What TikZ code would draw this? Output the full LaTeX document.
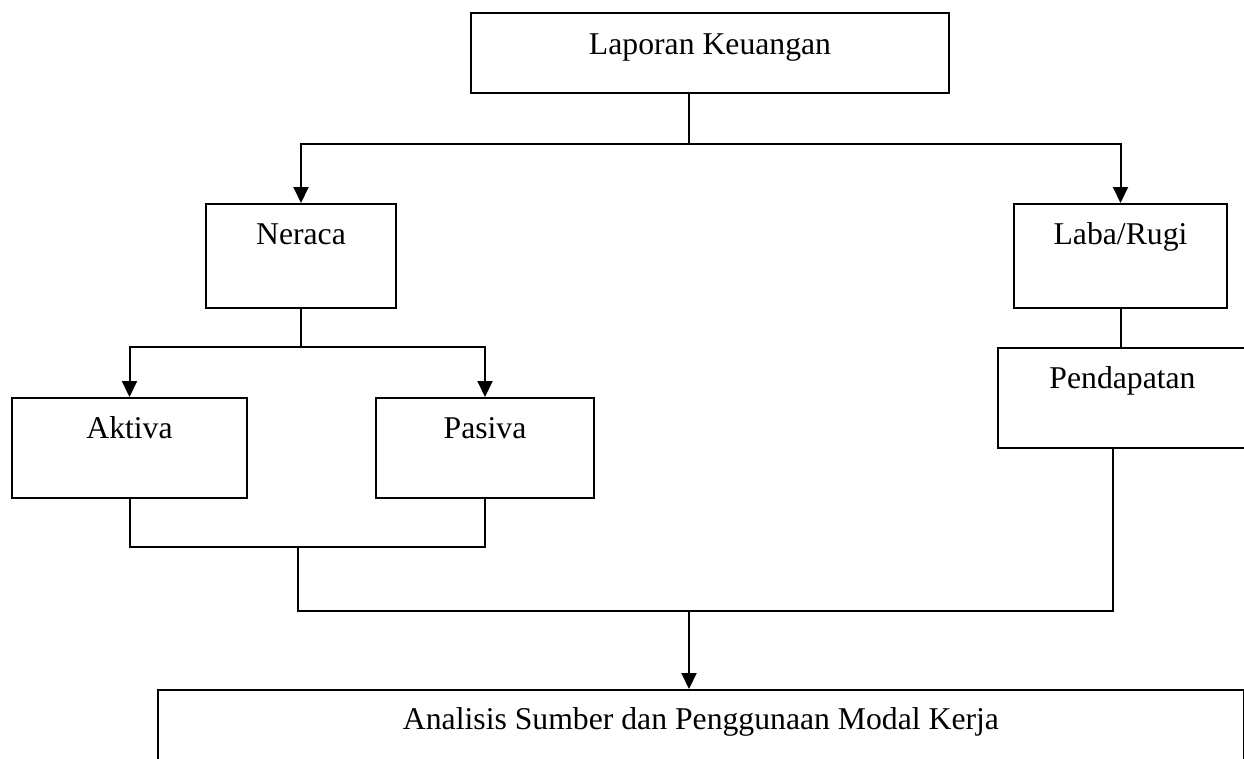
\documentclass[tikz,border=0pt]{standalone}
\usepackage{fontspec}
\setmainfont{Liberation Serif}
\usetikzlibrary{arrows.meta,calc}
\newcommand{\boxfont}{\fontsize{31.7pt}{38pt}\selectfont}
\tikzset{
  bx/.style={draw, line width=2pt, inner sep=0pt, anchor=north west, font=\boxfont, align=center},
  ln/.style={line width=2pt},
  arr/.style={line width=2pt, -{Triangle[width=15pt,length=16pt]}}
}
\begin{document}
\begin{tikzpicture}[x=1pt,y=-1pt]
\useasboundingbox (0,0) rectangle (1244,758);
\clip (0,0) rectangle (1244,758);
\node[bx, minimum width=478pt, text height=41pt, text depth=39pt] (lap) at (470,12) {Laporan Keuangan};
\node[bx, minimum width=190pt, text height=40pt, text depth=64pt] (ner) at (205,203) {Neraca};
\node[bx, minimum width=213pt, text height=40pt, text depth=64pt] (lab) at (1013,203) {Laba/Rugi};
\node[bx, minimum width=249pt, text height=40pt, text depth=60pt] (pen) at (997,347) {Pendapatan};
\node[bx, minimum width=235pt, text height=40pt, text depth=60pt] (akt) at (11,397) {Aktiva};
\node[bx, minimum width=218pt, text height=40pt, text depth=60pt] (pas) at (375,397) {Pasiva};
\node[bx, minimum width=1086pt, text height=39pt, text depth=80pt] (ana) at (157,689) {Analisis Sumber dan Penggunaan Modal Kerja};
\coordinate (j1) at (689,144);
\coordinate (j2) at (300,347);
\coordinate (j3) at (298,547);
\coordinate (j4) at (689,611);
\coordinate (ps) at ($(pen.south west)+(116,0)$);
\draw[ln] (j1 |- lap.south) -- (j1);
\draw[arr] (j1) -| (ner.north);
\draw[arr] (j1) -| (lab.north);
\draw[ln] (ner.south) -- (ner.south |- j2);
\draw[arr] (ner.south |- j2) -| (akt.north);
\draw[arr] (ner.south |- j2) -| (pas.north);
\draw[ln] (lab.south) -- (lab.south |- pen.north);
\draw[ln] (akt.south) |- (j3) -| (pas.south);
\draw[ln] (j3) |- (j4) -| (ps);
\draw[arr] (j4) -- (j4 |- ana.north);
\end{tikzpicture}
\end{document}
